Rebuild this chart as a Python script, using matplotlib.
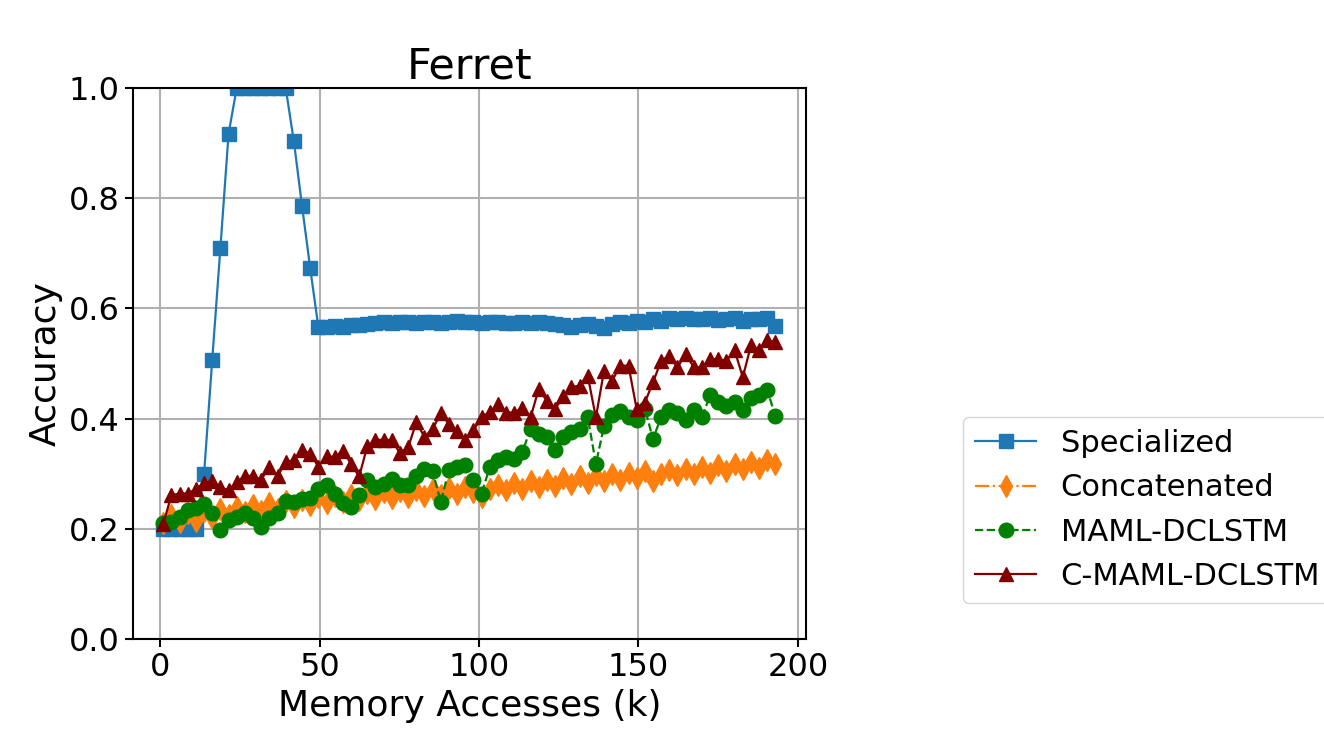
import numpy as np
import matplotlib
matplotlib.use('Agg')
from matplotlib import pyplot as plt

# memory accesses (k), 76 evenly spaced measurement points
x = np.linspace(1, 193, 76)

specialized = [0.200, 0.200, 0.200, 0.200, 0.200,
               0.300, 0.507, 0.710, 0.917, 1.000, 1.000, 1.000, 1.000,
               1.000, 1.000, 1.000, 0.903, 0.786, 0.673, 0.566,
               0.566, 0.568, 0.567, 0.570, 0.570, 0.572, 0.573, 0.575,
               0.574, 0.576, 0.575, 0.574, 0.575, 0.576, 0.574, 0.575,
               0.577, 0.575, 0.576, 0.574, 0.575, 0.576, 0.574, 0.573,
               0.575, 0.574, 0.576, 0.573, 0.572, 0.570, 0.566, 0.570,
               0.572, 0.568, 0.565, 0.572, 0.575, 0.573, 0.577, 0.576,
               0.580, 0.578, 0.582, 0.580, 0.583, 0.581, 0.580, 0.582,
               0.579, 0.580, 0.582, 0.578, 0.581, 0.580, 0.583, 0.568]

concatenated = [0.210, 0.225, 0.212, 0.228, 0.215, 0.232, 0.220, 0.236,
                0.225, 0.240, 0.230, 0.244, 0.233, 0.247, 0.236, 0.250,
                0.240, 0.253, 0.243, 0.257, 0.246, 0.259, 0.249, 0.262,
                0.252, 0.265, 0.254, 0.267, 0.256, 0.268, 0.257, 0.270,
                0.259, 0.272, 0.262, 0.274, 0.264, 0.276, 0.266, 0.258,
                0.272, 0.280, 0.270, 0.283, 0.273, 0.286, 0.276, 0.289,
                0.278, 0.292, 0.281, 0.295, 0.284, 0.297, 0.287, 0.299,
                0.289, 0.302, 0.292, 0.304, 0.286, 0.300, 0.307, 0.297,
                0.309, 0.300, 0.312, 0.302, 0.315, 0.305, 0.318, 0.308,
                0.321, 0.311, 0.324, 0.318]

maml = [0.210, 0.213, 0.222, 0.234, 0.237, 0.245, 0.228, 0.198,
        0.216, 0.222, 0.228, 0.219, 0.203, 0.219, 0.229, 0.251,
        0.249, 0.254, 0.255, 0.273, 0.279, 0.264, 0.246, 0.240,
        0.261, 0.289, 0.275, 0.281, 0.290, 0.279, 0.279, 0.296,
        0.308, 0.304, 0.249, 0.307, 0.313, 0.315, 0.289, 0.264,
        0.312, 0.325, 0.331, 0.327, 0.339, 0.382, 0.372, 0.367,
        0.343, 0.367, 0.376, 0.382, 0.403, 0.318, 0.386, 0.406,
        0.414, 0.403, 0.397, 0.418, 0.363, 0.403, 0.416, 0.410,
        0.397, 0.416, 0.403, 0.442, 0.430, 0.422, 0.430, 0.415,
        0.438, 0.442, 0.452, 0.404]

c_maml = [0.209, 0.261, 0.264, 0.264, 0.272, 0.283, 0.287, 0.275,
          0.270, 0.285, 0.296, 0.296, 0.289, 0.313, 0.295, 0.322,
          0.324, 0.343, 0.336, 0.313, 0.332, 0.330, 0.342, 0.318,
          0.295, 0.350, 0.362, 0.361, 0.361, 0.337, 0.348, 0.393,
          0.367, 0.381, 0.410, 0.390, 0.378, 0.361, 0.379, 0.402,
          0.412, 0.426, 0.411, 0.411, 0.420, 0.402, 0.454, 0.432,
          0.417, 0.441, 0.457, 0.460, 0.478, 0.402, 0.487, 0.469,
          0.496, 0.496, 0.417, 0.429, 0.466, 0.505, 0.514, 0.493,
          0.517, 0.493, 0.493, 0.508, 0.508, 0.505, 0.524, 0.475,
          0.533, 0.524, 0.542, 0.539]

fig = plt.figure(figsize=(13.24, 7.35), dpi=100)
ax = fig.add_axes([0.1002, 0.1306, 0.5086, 0.7497])

ax.plot(x, specialized, '-', marker='s', color='#1f77b4', lw=1.6, ms=10.5,
        label='Specialized')
ax.plot(x, concatenated, '-.', marker='d', color='#ff7f0e', lw=1.6, ms=11,
        label='Concatenated')
ax.plot(x, maml, '--', marker='o', color='green', lw=1.6, ms=10.5,
        label='MAML-DCLSTM')
ax.plot(x, c_maml, '-', marker='^', color='#800000', lw=1.6, ms=10.5,
        label='C-MAML-DCLSTM')

ax.set_ylim(0, 1)
ax.set_xticks([0, 50, 100, 150, 200])
ax.set_yticks([0.0, 0.2, 0.4, 0.6, 0.8, 1.0])
ax.tick_params(labelsize=23, width=1.5, length=6)
ax.grid(True, color='#b0b0b0', lw=1.5)
for s in ax.spines.values():
    s.set_linewidth(1.5)

ax.set_title('Ferret', fontsize=31)
ax.set_xlabel('Memory Accesses (k)', fontsize=26)
ax.set_ylabel('Accuracy', fontsize=26)

ax.legend(fontsize=22, loc='upper left', bbox_to_anchor=(0.7273, 0.4327),
          bbox_transform=fig.transFigure, borderaxespad=0)

plt.savefig('out.png')
